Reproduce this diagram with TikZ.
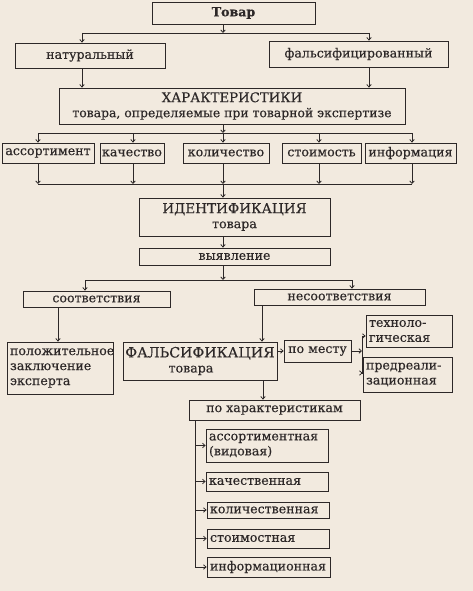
\documentclass[tikz,border=0pt]{standalone}
\usepackage{fontspec}
\setmainfont{DejaVu Serif}[FakeBold=0.3]
\usetikzlibrary{arrows.meta}
\definecolor{paper}{RGB}{242,234,223}
\definecolor{ink}{RGB}{45,40,40}

\begin{document}
\begin{tikzpicture}[x=1pt,y=-1pt,ink,line width=0.8pt,>={Straight Barb[length=2.5pt,width=4.5pt]}]
    \tikzstyle{box}=[draw=ink, rectangle, inner sep=0pt, text=ink, align=center, font=\fontsize{12.6}{15}\selectfont]
    \tikzstyle{lbox}=[style=box, inner xsep=3pt, align=left]

    \fill[paper] (0,0) rectangle (473,591);
    \useasboundingbox (0,0) rectangle (473,591);

    % top part
    \node[box,minimum width=163,minimum height=22] (tovar)  at (233.5,13)  {\bfseries Товар};
    \node[box,minimum width=150,minimum height=25] (nat)    at (90,55.5)   {натуральный};
    \node[box,minimum width=179,minimum height=26] (fals)   at (358.5,54)  {фальсифицированный};
    \node[box,minimum width=346,minimum height=36] (char)   at (232,106)
        {{\fontsize{13.3}{15}\selectfont ХАРАКТЕРИСТИКИ}\\{\fontsize{12.4}{14}\selectfont товара, определяемые при товарной экспертизе}};

    % characteristics row
    \node[box,minimum width=92,minimum height=20]  (assort) at (48,153)    {ассортимент};
    \node[box,minimum width=64,minimum height=20]  (kach)   at (132,153)   {качество};
    \node[box,minimum width=86,minimum height=20]  (kol)    at (226,153)   {количество};
    \node[box,minimum width=79,minimum height=20]  (stoim)  at (321.5,153) {стоимость};
    \node[box,minimum width=91,minimum height=20]  (inf)    at (410.5,153) {информация};

    % identification
    \node[box,minimum width=191,minimum height=38] (ident)  at (234.5,217)
        {{\fontsize{13.6}{15}\selectfont ИДЕНТИФИКАЦИЯ}\\товара};
    \node[box,minimum width=191,minimum height=17] (vyyav)  at (234.5,256.5) {выявление};
    \node[box,minimum width=147,minimum height=16] (sootv)  at (96.5,299)  {соответствия};
    \node[box,minimum width=171,minimum height=16] (nesoot) at (339.5,297) {несоответствия};
    \node[lbox,text width=100,minimum height=52]   (polozh) at (60,368)    {положительное\\заключение\\эксперта};
    \node[box,minimum width=154,minimum height=38] (falsif) at (200,361)
        {{\fontsize{14.2}{15}\selectfont ФАЛЬСИФИКАЦИЯ}\\товара\hspace*{18pt}};
    \node[box,minimum width=67,minimum height=22]  (mesto)  at (317.5,351) {по месту};
    \node[lbox,text width=80,minimum height=32]    (tech)   at (409,331)   {техноло-\\гическая};
    \node[lbox,text width=83,minimum height=35]    (predr)  at (407.5,374.5) {предреали-\\зационная};

    % by characteristics
    \node[box,minimum width=171,minimum height=20] (poxar)  at (274.5,410) {по характеристикам};
    \node[lbox,text width=116,minimum height=33]   (sa)     at (267,445.5) {ассортиментная\\(видовая)};
    \node[lbox,text width=116,minimum height=19]   (sb)     at (267,481.5) {качественная};
    \node[lbox,text width=116,minimum height=16]   (sc)     at (268,510)   {количественная};
    \node[lbox,text width=116,minimum height=19]   (sd)     at (268,538.5) {стоимостная};
    \node[lbox,text width=117,minimum height=20]   (se)     at (268.5,567) {информационная};

    \coordinate (j1)  at (223,33);
    \coordinate (j1l) at (82,33);
    \coordinate (j1r) at (369,33);
    \coordinate (j2)  at (223,133);
    \coordinate (j3)  at (223,184);
    \coordinate (j4)  at (223,280);
    \coordinate (j4l) at (85,280);
    \coordinate (j4r) at (352,280);
    \coordinate (m1)  at (362,351);
    \coordinate (vx)  at (195,420);

    \draw[->] (tovar.south -| j1) -- (j1);
    \draw (j1l) -- (j1r);
    \draw[->] (j1l) -- (nat.north -| j1l);
    \draw[->] (j1r) -- (fals.north -| j1r);
    \draw[->] (nat.south -| j1l) -- (char.north -| j1l);
    \draw[->] (fals.south -| j1r) -- (char.north -| j1r);
    \draw[->] (char.south -| j2) -- (j2);
    \draw (38,133) -- (412,133);
    \draw (38,184) -- (412,184);
    \foreach \n/\x in {assort/38,kach/133,kol/223,stoim/319,inf/412}
    {
      \draw[->] (\x,133) -- (\n.north -| \x,0);
      \draw[->] (\n.south -| \x,0) -- (\x,184);
    }
    \draw[->] (j3) -- (ident.north -| j3);
    \draw[->] (ident.south -| j3) -- (vyyav.north -| j3);
    \draw[->] (vyyav.south -| j4) -- (j4);
    \draw (j4l) -- (j4r);
    \draw[->] (j4l) -- (sootv.north -| j4l);
    \draw[->] (j4r) -- (nesoot.north -| j4r);
    \draw[->] (sootv.south -| 58,0) -- (polozh.north -| 58,0);
    \draw[->] (nesoot.south -| 262,0) -- (falsif.north -| 262,0);
    \draw[->] (falsif.east |- mesto.west) -- (mesto.west);
    \draw[->] (mesto.east) -- (m1);
    \draw (362,336) -- (362,373);
    \draw[->] (362,336) -- (tech.west |- 0,336);
    \draw[->] (362,373) -- (predr.west |- 0,373);
    \draw[->] (falsif.south -| 263,0) -- (poxar.north -| 263,0);
    \foreach \n in {sa,sb,sc,sd,se}
      \draw[->] (poxar.south -| vx) |- (\n.west);
\end{tikzpicture}
\end{document}
